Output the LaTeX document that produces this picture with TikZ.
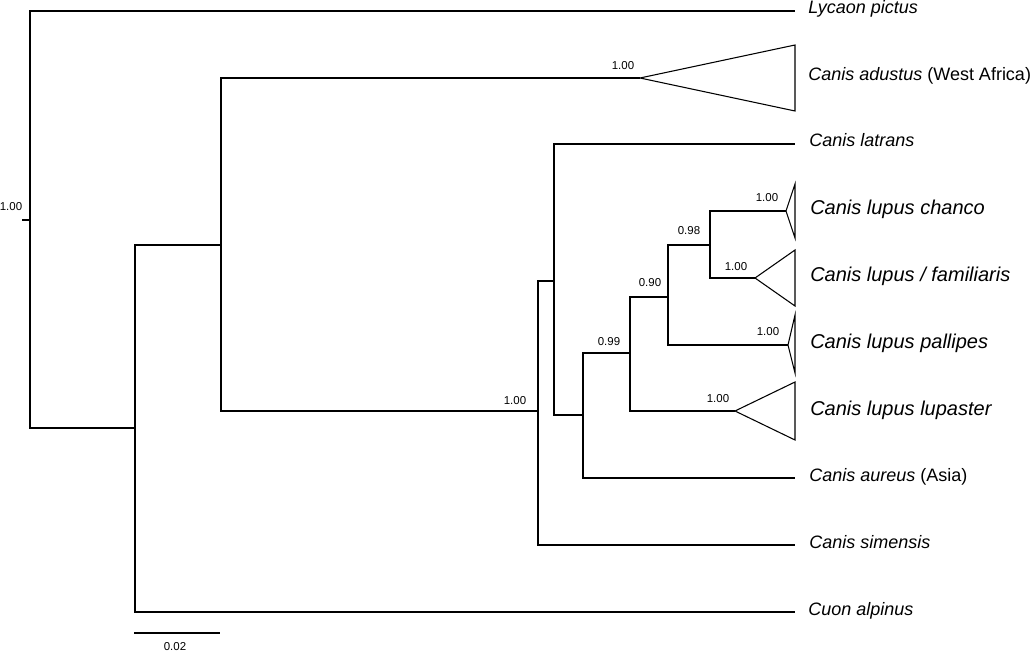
\documentclass[tikz,border=0pt]{standalone}
\usepackage{fontspec}
\setmainfont{Liberation Sans}
\begin{document}
\begin{tikzpicture}[x=0.75pt,y=-0.75pt,
  br/.style={draw=black,line width=0.8pt},
  tri/.style={draw=black,line width=0.8pt},
  leaf/.style={anchor=base west,inner sep=0pt,yshift=-3*0.75pt,font=\fontsize{13.5}{16}\selectfont},
  bigleaf/.style={anchor=base west,inner sep=0pt,yshift=-4*0.75pt,font=\fontsize{15}{18}\selectfont},
  supp/.style={inner sep=0pt,font=\fontsize{8.6}{10}\selectfont}]
\useasboundingbox (0,0) rectangle (1032,652);
% internal nodes
\coordinate (stub) at (22,220);
\coordinate (root) at (30,220);
\coordinate (nA) at (135,428);
\coordinate (nB) at (221,245);
\coordinate (nC) at (538,411);
\coordinate (nD) at (554,281);
\coordinate (nE) at (583,415);
\coordinate (nF) at (630,353);
\coordinate (nG) at (668,297);
\coordinate (nH) at (710,245);
% tips
\coordinate (lyc) at (795,11);
\coordinate (adu) at (640,78);
\coordinate (lat) at (795,144);
\coordinate (cha) at (786,211);
\coordinate (fam) at (755,278);
\coordinate (pal) at (788,345);
\coordinate (lup) at (735,411);
\coordinate (aur) at (795,478);
\coordinate (sim) at (795,545);
\coordinate (cuo) at (795,612);
% triangle corners
\coordinate (aduT) at (795,45);  \coordinate (aduB) at (795,111);
\coordinate (chaT) at (795,184); \coordinate (chaB) at (795,238);
\coordinate (famT) at (795,250); \coordinate (famB) at (795,306);
\coordinate (palT) at (795,315); \coordinate (palB) at (795,373);
\coordinate (lupT) at (795,382); \coordinate (lupB) at (795,440);
% branches
\draw[br] (stub) -- (root);
\draw[br] (root) |- (lyc);
\draw[br] (root) |- (nA);
\draw[br] (nA) |- (nB);
\draw[br] (nA) |- (cuo);
\draw[br] (nB) |- (adu);
\draw[br] (nB) |- (nC);
\draw[br] (nC) |- (nD);
\draw[br] (nC) |- (sim);
\draw[br] (nD) |- (lat);
\draw[br] (nD) |- (nE);
\draw[br] (nE) |- (nF);
\draw[br] (nE) |- (aur);
\draw[br] (nF) |- (nG);
\draw[br] (nF) |- (lup);
\draw[br] (nG) |- (nH);
\draw[br] (nG) |- (pal);
\draw[br] (nH) |- (cha);
\draw[br] (nH) |- (fam);
% collapsed clades
\draw[tri] (adu) -- (aduT) -- (aduB) -- cycle;
\draw[tri] (cha) -- (chaT) -- (chaB) -- cycle;
\draw[tri] (fam) -- (famT) -- (famB) -- cycle;
\draw[tri] (pal) -- (palT) -- (palB) -- cycle;
\draw[tri] (lup) -- (lupT) -- (lupB) -- cycle;
% leaf labels
\node[leaf] (Llyc) at (808,11) {\itshape Lycaon pictus};
\node[leaf] (Ladu) at (808,78) {\textit{Canis adustus} (West Africa)};
\node[leaf] (Llat) at (809,144) {\itshape Canis latrans};
\node[bigleaf] (Lcha) at (810,211) {\itshape Canis lupus chanco};
\node[bigleaf] (Lfam) at (810,278) {\itshape Canis lupus / familiaris};
\node[bigleaf] (Lpal) at (810,345) {\itshape Canis lupus pallipes};
\node[bigleaf] (Llup) at (810,411) {\itshape Canis lupus lupaster};
\node[leaf] (Laur) at (809,478) {\textit{Canis aureus} (Asia)};
\node[leaf] (Lsim) at (809,545) {\itshape Canis simensis};
\node[leaf] (Lcuo) at (808,612) {\itshape Cuon alpinus};
% support values
\node[supp] (s0) at (11,207) {1.00};
\node[supp] (s1) at (623,66) {1.00};
\node[supp] (s2) at (515,401) {1.00};
\node[supp] (s3) at (767,198) {1.00};
\node[supp] (s4) at (689,231) {0.98};
\node[supp] (s5) at (736,267) {1.00};
\node[supp] (s6) at (650,283) {0.90};
\node[supp] (s7) at (768,332) {1.00};
\node[supp] (s8) at (609,342) {0.99};
\node[supp] (s9) at (718,399) {1.00};
% scale bar
\coordinate (sbL) at (134,633);
\coordinate (sbR) at (220,633);
\draw[br] (sbL) -- (sbR);
\node[supp] (sbl) at (175,647) {0.02};
\end{tikzpicture}
\end{document}
